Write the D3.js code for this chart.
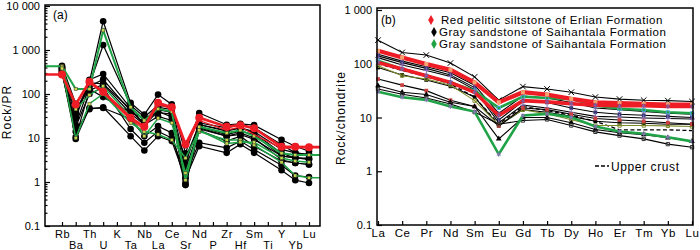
<!DOCTYPE html>
<html>
<head>
<meta charset="utf-8">
<script src="https://cdn.jsdelivr.net/npm/d3@7"></script>
<style>
	body { margin: 0; background: #fff; }
	text { font-family: Arial, "Liberation Sans", sans-serif; fill: #000; }
</style>
</head>
<body>
<script>
// ---- data: panel (a) primitive-mantle normalised spider diagram ----
const spiderElements = ["Rb","Ba","Th","U","K","Ta","Nb","La","Ce","Sr","Nd","P","Zr","Hf","Sm","Ti","Y","Yb","Lu"];
const spiderTicks = [0.1, 1, 10, 100, 1000, 10000];
// K, P and Ti were not plotted (null)
const spiderRed = [277, 58, 190, 112, null, 29, 18, 63, 50, 7.2, 29, null, 18, 19.6, 16.7, null, 6.3, 6.3, 6.2];
const spiderRedThin = [277, 55, 180, 105, null, 26, 16, 58, 46, 6, 25, null, 15, 18, 12, null, 5.8, 6, 6];
const spiderGreen = [
	[430, 130, 130, 2800, null, 50, 25, 46, 40, 1.1, 18, null, 13, 15, 11, null, 4.5, 4.1, 4.1],
	[400, 45, 95, 150, null, 30, 11, 28, 22, 1.6, 14, null, 9, 9, 7, null, 2.8, 1.4, 1.25],
	[380, 10, 60, 100, null, 22, 14, 12, 9, 3.5, 15, null, 7.5, 8, 8, null, 3.5, 3, 2.8]
];
const spiderBlack = [
	[440, 60, 190, 4500, null, 63, 34, 97, 58, 4.5, 37, null, 20, 21, 19.6, null, 9.1, 6.5, 5.0],
	[400, 35, 160, 1300, null, 55, 30, 55, 50, 2.6, 22, null, 17, 20, 17, null, 7, 4.6, 4.2],
	[380, 28, 210, 285, null, 48, 25, 50, 44, 1.25, 20, null, 14.3, 17, 14, null, 5.5, 4.6, 4.2],
	[360, 20, 150, 213, null, 41, 22, 44, 38, 1.0, 18, null, 12, 14.3, 12, null, 3.9, 3.55, 3.3],
	[350, 10.5, 120, 165, null, 36, 20, 40, 30, 0.88, 17, null, 11, 12, 9.3, null, 3.9, 3.55, 3.3],
	[320, 9.5, 48, 48, null, 27, 11, 18.6, 13, 0.85, 15, null, 8.5, 11, 6.5, null, 3, 2.7, 2.5],
	[300, 14, 45, 50, null, 11, 5.2, 11, 8.5, 1.2, 6.5, null, 4.6, 7.2, 4.6, null, 1.85, 1.1, 0.95],
	[330, 18, 100, 140, null, 16, 7.8, 14, 10, 1.5, 7.8, null, 6, 8.5, 5.5, null, 2.4, 1.4, 1.3],
	[420, 40, 180, 170, null, 45, 20, 31, 25, 3.5, 20, null, 15, 17, 13, null, 4.5, 3.5, 3.5],
	[390, 45, 130, 85, null, 38, 28, 38, 35, 2, 16, null, 11, 13, 10, null, 3.2, 2.7, 2.5]
];

// ---- data: panel (b) chondrite normalised REE patterns ----
const reeElements = ["La","Ce","Pr","Nd","Sm","Eu","Gd","Tb","Dy","Ho","Er","Tm","Yb","Lu"];
const reeTicks = [0.1, 1, 10, 100, 1000];
const reeRed = [
	[174, 131, 99, 77, 45, 19.2, 29.5, 26.7, 22.2, 19.2, 18.5, 17.9, 17.4, 17.4],
	[106, 80, 60, 45, 29.5, 10.9, 20.6, 19.5, 18, 17, 16.5, 16.5, 16, 16]
];
const reeGreen = [
	[114, 80, 60, 45, 31.6, 15.1, 24.5, 23, 22, 16.7, 14.5, 13.8, 12.5, 12.0],
	[30, 23.8, 21.3, 16, 12.9, 2.07, 10.9, 11.7, 10.1, 6.8, 5.5, 5.0, 4.3, 3.6]
];
const reeBlack = [
	[275, 162, 145, 103, 57, 21, 37.6, 34, 29.5, 24, 22, 21, 20.6, 19.8],
	[150, 112, 88, 68, 40, 12, 25, 23, 19, 15, 14, 13, 12, 11.5],
	[140, 105, 82, 62, 36, 9, 20, 19, 15, 12.5, 11.5, 11, 10.5, 10],
	[130, 95, 75, 58, 33, 8, 17, 15, 12.5, 10.5, 10.2, 9.8, 9.6, 9.4],
	[85, 62, 50, 38, 24, 7, 14, 12.5, 10.5, 8.5, 8, 7.8, 7.5, 7.5],
	[92, 60, 52, 40, 20.6, 7.3, 13.9, 11.7, 9.1, 7.1, 7.1, 7.1, 7, 6.8],
	[52, 40, 31.6, 21, 16, 7, 15, 14, 11.5, 9.6, 9, 8.5, 8, 7.5],
	[39, 29.5, 26.7, 19.2, 16, 4.0, 10, 10, 8, 6, 5.2, 4.8, 4.2, 3.6],
	[34, 27, 23, 17.9, 12.6, 7.5, 8.8, 9.2, 7.1, 5.4, 4.6, 4.0, 3.2, 2.8]
];
const reeUpperCrust = [100, 75, 58, 42, 24, 7.5, 16, 13.5, 11, 8.5, 5.9, 5.9, 5.9, 5.7];
const legendLabels = [
	"Red pelitic siltstone of Erlian Formation",
	"Gray sandstone of Saihantala Formation",
	"Gray sandstone of Saihantala Formation"
];

// ---- styles ----
const RED = "#ee1c24", GREEN = "#1fa346", OLIVE = "#7d8a2a";
const reeBlackMarks = [
	{sym: d3.symbolTimes, col: "#000", fill: false},
	{sym: d3.symbolAsterisk, col: "#7a5fa8", fill: false},
	{sym: d3.symbolSquare, col: "#3a3a7a", fill: true},
	{sym: d3.symbolPlus, col: "#8a6fb8", fill: false},
	{sym: d3.symbolSquare, col: "#000", fill: true},
	{sym: d3.symbolSquare2, col: OLIVE, fill: false, line: OLIVE},
	{sym: d3.symbolSquare, col: "#d04040", fill: true},
	{sym: d3.symbolTriangle, col: "#000", fill: true},
	{sym: d3.symbolSquare2, col: "#333", fill: false}
];
const reeRedMarks = [{sym: d3.symbolSquare, col: "#f4a470", fill: true}, {sym: d3.symbolAsterisk, col: "#7a5fa8", fill: false}];
const reeGreenMarks = [{sym: d3.symbolSquare2, col: "#48a8d8", fill: false}, {sym: d3.symbolAsterisk, col: "#8a6fb8", fill: false}];
const spiderGreenExt = [["left","right"], ["right"], []];
const FONT = "Arial, 'Liberation Sans', sans-serif";

const svg = d3.select("body")
	.append("svg")
	.attr("width", 700)
	.attr("height", 250);

// ================= panel (a) =================
const boxA = {left: 45, right: 320, top: 5, bottom: 226};
const xA = d3.scalePoint().domain(spiderElements).range([62, 309]);
const yA = d3.scaleLog().domain([0.1, 10000]).range([boxA.bottom, boxA.top + 1]);

const gA = svg.append("g");

// minor ticks
const minorA = [];
spiderTicks.slice(0, -1).forEach(d => { for (let k = 2; k < 10; k++) minorA.push(d * k); });
gA.append("g")
	.attr("transform", "translate(" + boxA.left + ",0)")
	.call(d3.axisLeft(yA).tickValues(minorA).tickSize(-2.5).tickFormat(""))
	.call(g => g.select(".domain").remove());

gA.append("g")
	.attr("transform", "translate(" + boxA.left + ",0)")
	.call(d3.axisLeft(yA).tickValues(spiderTicks).tickSize(-5).tickPadding(5)
		.tickFormat(d => d >= 1000 ? d3.format(",")(d).replace(",", " ") : d))
	.call(g => g.select(".domain").remove())
	.call(g => g.selectAll("text").style("font-size", "11px").style("font-family", FONT));

gA.append("g")
	.attr("transform", "translate(0," + boxA.bottom + ")")
	.call(d3.axisBottom(xA).tickSize(-4).tickPadding(3))
	.call(g => g.select(".domain").remove())
	.call(g => g.selectAll("text")
		.style("font-size", "11px")
		.style("letter-spacing", "0.6px")
		.style("font-family", FONT)
		.attr("dy", (d, i) => i % 2 ? "1.85em" : "0.85em"));

gA.selectAll(".tick line").attr("stroke-width", 1.2);

const lineA = d3.line().x(d => d[0]).y(d => d[1]);
function spiderPoints(vals, ext) {
	const pts = [];
	vals.forEach((v, i) => { if (v != null) pts.push([xA(spiderElements[i]), yA(v)]); });
	if (ext && ext.includes("left")) pts.unshift([boxA.left, pts[0][1]]);
	if (ext && ext.includes("right")) pts.push([boxA.right, pts[pts.length - 1][1]]);
	return pts;
}
function spiderDots(vals) {
	return vals.map((v, i) => v == null ? null : [xA(spiderElements[i]), yA(v)]).filter(d => d);
}

// black samples
spiderBlack.forEach(vals => {
	gA.append("path").attr("d", lineA(spiderPoints(vals))).attr("fill", "none")
		.attr("stroke", "#000").attr("stroke-width", 1.2);
	gA.selectAll(null).data(spiderDots(vals)).enter().append("circle")
		.attr("cx", d => d[0]).attr("cy", d => d[1]).attr("r", 3.3).attr("fill", "#000");
});
// green samples
spiderGreen.forEach((vals, j) => {
	gA.append("path").attr("d", lineA(spiderPoints(vals, spiderGreenExt[j]))).attr("fill", "none")
		.attr("stroke", GREEN).attr("stroke-width", j === 0 ? 2 : 1.5);
	gA.selectAll(null).data(spiderDots(vals)).enter().append("rect")
		.attr("x", d => d[0] - 1.6).attr("y", d => d[1] - 1.6).attr("width", 3.2).attr("height", 3.2)
		.attr("fill", "#c6d84a").attr("stroke", "#333").attr("stroke-width", 0.5);
});
// red samples
gA.append("path").attr("d", lineA(spiderPoints(spiderRedThin))).attr("fill", "none")
	.attr("stroke", RED).attr("stroke-width", 1.2);
gA.append("path").attr("d", lineA(spiderPoints(spiderRed, ["left","right"]))).attr("fill", "none")
	.attr("stroke", RED).attr("stroke-width", 2.6);
gA.selectAll(null).data(spiderDots(spiderRed)).enter().append("circle")
	.attr("cx", d => d[0]).attr("cy", d => d[1]).attr("r", 4).attr("fill", RED);

gA.append("rect")
	.attr("x", boxA.left).attr("y", boxA.top)
	.attr("width", boxA.right - boxA.left).attr("height", boxA.bottom - boxA.top)
	.attr("fill", "none").attr("stroke", "#000").attr("stroke-width", 1.5);

gA.append("text").attr("x", 53).attr("y", 19).style("font-size", "12px").text("(a)");
gA.append("text")
	.attr("transform", "translate(11,112) rotate(-90)")
	.attr("text-anchor", "middle")
	.style("font-size", "12px").style("letter-spacing", "1px")
	.text("Rock/PR");

// ================= panel (b) =================
const boxB = {left: 377, right: 693, top: 8, bottom: 225};
const xB = d3.scalePoint().domain(reeElements).range([378, 692]);
const yB = d3.scaleLog().domain([0.1, 1000]).range([boxB.bottom, boxB.top + 2]);

const gB = svg.append("g");

gB.append("g")
	.attr("transform", "translate(" + boxB.left + ",0)")
	.call(d3.axisLeft(yB).tickValues(reeTicks).tickSize(-5).tickPadding(5)
		.tickFormat(d => d >= 1000 ? d3.format(",")(d).replace(",", " ") : d))
	.call(g => g.select(".domain").remove())
	.call(g => g.selectAll("text").style("font-size", "11px").style("font-family", FONT));

gB.append("g")
	.attr("transform", "translate(0," + boxB.bottom + ")")
	.call(d3.axisBottom(xB).tickSize(-4).tickPadding(4))
	.call(g => g.select(".domain").remove())
	.call(g => g.selectAll("text")
		.style("font-size", "11.5px")
		.style("letter-spacing", "0.6px")
		.style("font-family", FONT));

gB.selectAll(".tick line").attr("stroke-width", 1.2);

const lineB = d3.line().x((d, i) => xB(reeElements[i])).y(d => yB(d));
function reeMarks(vals, m, size) {
	const sym = d3.symbol().type(m.sym).size(size || 14);
	gB.selectAll(null).data(vals).enter().append("path")
		.attr("transform", (d, i) => "translate(" + xB(reeElements[i]) + "," + yB(d) + ")")
		.attr("d", sym())
		.attr("fill", m.fill ? m.col : "none")
		.attr("stroke", m.fill ? "none" : m.col)
		.attr("stroke-width", 1);
}

// upper crust (dashed)
gB.append("path").attr("d", lineB(reeUpperCrust)).attr("fill", "none")
	.attr("stroke", "#000").attr("stroke-width", 1.3).attr("stroke-dasharray", "4,2.5");

reeBlack.forEach((vals, j) => {
	const m = reeBlackMarks[j];
	gB.append("path").attr("d", lineB(vals)).attr("fill", "none")
		.attr("stroke", m.line || "#000").attr("stroke-width", 1.1);
	reeMarks(vals, m, j === 0 ? 22 : 14);
});
reeGreen.forEach((vals, j) => {
	gB.append("path").attr("d", lineB(vals)).attr("fill", "none")
		.attr("stroke", GREEN).attr("stroke-width", 2.6);
	reeMarks(vals, reeGreenMarks[j]);
});
reeRed.forEach((vals, j) => {
	gB.append("path").attr("d", lineB(vals)).attr("fill", "none")
		.attr("stroke", RED).attr("stroke-width", j === 0 ? 4.2 : 3.6);
	reeMarks(vals, reeRedMarks[j], 16);
});

gB.append("rect")
	.attr("x", boxB.left).attr("y", boxB.top)
	.attr("width", boxB.right - boxB.left).attr("height", boxB.bottom - boxB.top)
	.attr("fill", "none").attr("stroke", "#000").attr("stroke-width", 1.5);

gB.append("text").attr("x", 381).attr("y", 24).style("font-size", "12px").text("(b)");
gB.append("text")
	.attr("transform", "translate(345,118) rotate(-90)")
	.attr("text-anchor", "middle")
	.style("font-size", "12px").style("letter-spacing", "1px")
	.text("Rock/chondrite");

// legend
const legendCols = [RED, "#000", GREEN];
const legend = gB.selectAll(".legend").data(legendLabels).enter().append("g")
	.attr("class", "legend")
	.attr("transform", (d, i) => "translate(" + (i === 0 ? 431 : 434) + "," + (20 + i * 12) + ")");
legend.append("path")
	.attr("d", d3.symbol().type(d3.symbolDiamond).size(28)())
	.attr("fill", (d, i) => legendCols[i]);
legend.append("text")
	.attr("x", (d, i) => i === 0 ? 10 : 5).attr("y", 4)
	.style("font-size", "11.5px").style("letter-spacing", "0.55px")
	.text(d => d);

gB.append("line")
	.attr("x1", 595).attr("x2", 609).attr("y1", 166).attr("y2", 166)
	.attr("stroke", "#000").attr("stroke-width", 1.3).attr("stroke-dasharray", "4,2");
gB.append("text").attr("x", 611).attr("y", 170.5)
	.style("font-size", "12px").style("letter-spacing", "0.6px")
	.text("Upper crust");
</script>
</body>
</html>
